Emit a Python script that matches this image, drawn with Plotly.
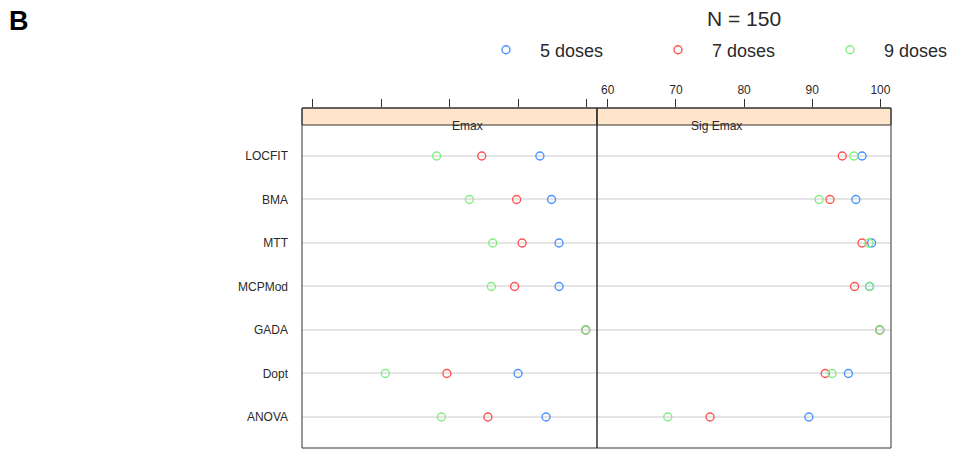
import plotly.graph_objects as go

methods = ["ANOVA", "Dopt", "GADA", "MCPMod", "MTT", "BMA", "LOCFIT"]
panels = ["Emax", "Sig Emax"]
dose_labels = ["5 doses", "7 doses", "9 doses"]
dose_colors = ["#4a93ff", "#ff5252", "#82ee82"]

# Emax panel values (order follows `methods`)
emax_5 = [94.1, 90.0, 99.9, 96.0, 96.0, 94.9, 93.2]
emax_7 = [85.6, 79.6, 99.9, 89.5, 90.6, 89.8, 84.7]
emax_9 = [78.8, 70.6, 99.9, 86.1, 86.3, 82.9, 78.1]

# Sig Emax panel values
sig_5 = [89.5, 95.3, 99.9, 98.4, 98.7, 96.4, 97.3]
sig_7 = [75.0, 91.9, 99.9, 96.2, 97.3, 92.6, 94.4]
sig_9 = [68.8, 92.9, 99.9, 98.4, 98.3, 91.0, 96.1]

x_ticks = [60, 70, 80, 90, 100]
x_range = [58.42, 101.55]

FONT = "Liberation Sans, Arial, sans-serif"
TXT = "#2a2a2a"
fig = go.Figure()

emax_sets = [emax_5, emax_7, emax_9]
sig_sets = [sig_5, sig_7, sig_9]
legend_widths = [None, None, 82]
for i, lab in enumerate(dose_labels):
    fig.add_trace(go.Scatter(
        x=emax_sets[i], y=methods, mode="markers", name=lab, legendgroup=lab,
        xaxis="x", yaxis="y", legendwidth=legend_widths[i],
        marker=dict(symbol="circle-open", size=8, color=dose_colors[i],
                    line=dict(width=1.4, color=dose_colors[i]))))
    fig.add_trace(go.Scatter(
        x=sig_sets[i], y=methods, mode="markers", name=lab, legendgroup=lab,
        showlegend=False, xaxis="x2", yaxis="y",
        marker=dict(symbol="circle-open", size=8, color=dose_colors[i],
                    line=dict(width=1.4, color=dose_colors[i]))))

# plot area in figure pixels (page is offset by 8px body margin)
L, R, T, B = 294, 883, 100, 440
W, H = R - L, B - T
split = 295 / W
strip_bottom = (B - 117) / H

shapes = []
for x0, x1 in [(0, split), (split, 1)]:
    shapes.append(dict(type="rect", xref="paper", yref="paper", x0=x0, x1=x1,
                       y0=strip_bottom, y1=1, fillcolor="#FFE5CC",
                       line=dict(color="#333333", width=1), layer="below"))
    shapes.append(dict(type="rect", xref="paper", yref="paper", x0=x0, x1=x1,
                       y0=0, y1=1, line=dict(color="#333333", width=1)))

annotations = [
    dict(text=panels[0], x=split / 2, y=(strip_bottom + 1) / 2, xref="paper", yref="paper",
         showarrow=False, font=dict(size=12, color=TXT, family=FONT)),
    dict(text=panels[1], x=(split + 1) / 2, y=(strip_bottom + 1) / 2, xref="paper", yref="paper",
         showarrow=False, font=dict(size=12, color=TXT, family=FONT)),
    dict(text="<b>B</b>", x=(11 - L) / W, y=(B - 13) / H, xref="paper", yref="paper",
         showarrow=False, xanchor="center", yanchor="middle",
         font=dict(size=27, color="#000000", family=FONT)),
]

axis_common = dict(range=x_range, side="top", anchor="y", showgrid=False, zeroline=False,
                   ticks="outside", ticklen=8, tickcolor="#333333", tickvals=x_ticks,
                   showline=False, tickfont=dict(size=12, color=TXT, family=FONT))

fig.update_layout(
    width=960, height=449,
    margin=dict(l=L, r=960 - R, t=T, b=449 - B, pad=0, autoexpand=False),
    paper_bgcolor="white", plot_bgcolor="white",
    font=dict(family=FONT, color=TXT),
    title=dict(text="N = 150", x=736 / 960, xanchor="center", y=1 - 11 / 449, yanchor="middle",
               xref="container", yref="container",
               font=dict(size=21, color=TXT, family=FONT)),
    xaxis=dict(domain=[0, split], showticklabels=False, **axis_common),
    xaxis2=dict(domain=[split, 1], showticklabels=True, **axis_common),
    yaxis=dict(type="category", categoryarray=methods, categoryorder="array",
               range=[-0.713, 7.103], showgrid=True, gridcolor="#e5e5e5", gridwidth=2,
               zeroline=False, showline=False, ticks="", ticklabelstandoff=13,
               tickfont=dict(size=12, color=TXT, family=FONT)),
    shapes=shapes,
    annotations=annotations,
    showlegend=True,
    legend=dict(orientation="h", x=(464 - L) / W, xanchor="left",
                y=(B - 42) / H, yanchor="middle",
                itemwidth=58, entrywidth=99, entrywidthmode="pixels",
                font=dict(size=18, color=TXT, family=FONT),
                bgcolor="rgba(0,0,0,0)"),
)

fig.write_html("out.html")
